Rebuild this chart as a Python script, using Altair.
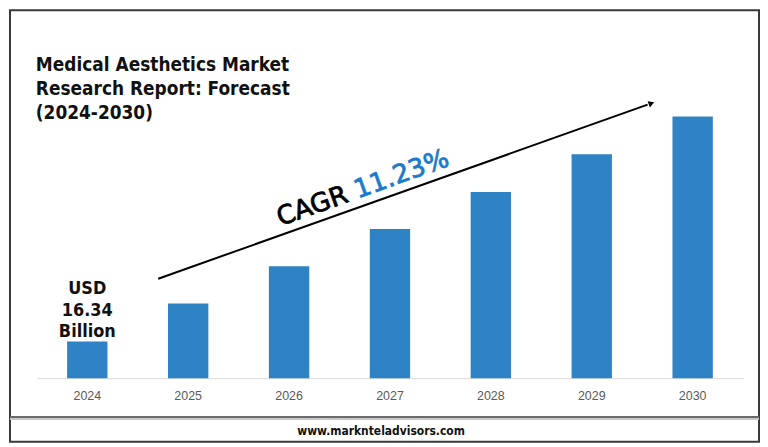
import altair as alt
import pandas as pd

years = ["2024", "2025", "2026", "2027", "2028", "2029", "2030"]
values = [16.34, 33.1, 49.7, 66.2, 82.6, 99.4, 116.1]
title_lines = ["Medical Aesthetics Market", "Research Report: Forecast", "(2024-2030)"]
label_lines = ["USD", "16.34", "Billion"]
cagr_word = "CAGR"
cagr_value = "11.23%"
footer_text = "www.marknteladvisors.com"

BAR = "#2E83C4"
BLUE_TXT = "#1B7BCB"
COND = "DejaVu Sans Condensed, DejaVu Sans"

df = pd.DataFrame({"year": years, "value": values})
one = pd.DataFrame({"k": [0]})

x_enc = alt.X(
    "year:N",
    sort=years,
    scale=alt.Scale(paddingInner=0.6, paddingOuter=0.3),
    axis=alt.Axis(
        title=None, labelAngle=0, ticks=False, domainColor="#d9d9d9",
        domainWidth=1, labelFont="Liberation Sans", labelFontSize=12.5,
        labelColor="#595959", labelPadding=11, grid=False,
    ),
)
y_enc = alt.Y("value:Q", scale=alt.Scale(domain=[0, 163.8]), axis=None)

bars = alt.Chart(df).mark_bar(color=BAR).encode(x=x_enc, y=y_enc)

usd = (
    alt.Chart(df)
    .transform_filter("datum.year == '2024'")
    .mark_text(baseline="bottom", align="center", fontSize=18, fontWeight="bold",
               font=COND, lineHeight=22, dy=-44, color="#111111")
    .encode(x=x_enc, y=y_enc, text=alt.value(label_lines))
)

ann = alt.Chart(one)

title = ann.mark_text(align="left", baseline="alphabetic", fontSize=19, fontWeight="bold",
                      font=COND, lineHeight=24, color="#111111").encode(
    x=alt.value(-1), y=alt.value(62), text=alt.value(title_lines))

arrow = ann.mark_rule(color="black", strokeWidth=2).encode(
    x=alt.value(122), y=alt.value(271), x2=alt.value(614), y2=alt.value(96))
head = ann.mark_point(shape="triangle", filled=True, size=45, angle=70.35,
                      color="black", opacity=1).encode(x=alt.value(617), y=alt.value(95))

cagr1 = ann.mark_text(align="left", baseline="alphabetic", fontSize=26, font="DejaVu Sans",
                      angle=340.35, color="black", stroke="black", strokeWidth=0.8).encode(
    x=alt.value(245), y=alt.value(218), text=alt.value(cagr_word))
cagr2 = ann.mark_text(align="left", baseline="alphabetic", fontSize=26, font="DejaVu Sans",
                      angle=340.35, color=BLUE_TXT, stroke=BLUE_TXT, strokeWidth=0.8).encode(
    x=alt.value(322.6), y=alt.value(190.3), text=alt.value(cagr_value))

border = ann.mark_rect(fillOpacity=0, stroke="#3a3a3a", strokeWidth=2).encode(
    x=alt.value(-27), x2=alt.value(726), y=alt.value(1), y2=alt.value(435))
sep1 = ann.mark_rule(color="#6b6b6b", strokeWidth=2).encode(
    x=alt.value(-27), x2=alt.value(726), y=alt.value(410))
sep2 = ann.mark_rule(color="#c8c8c8", strokeWidth=2).encode(
    x=alt.value(-27), x2=alt.value(726), y=alt.value(412))

footer = ann.mark_text(align="center", baseline="alphabetic", fontSize=12, fontWeight="bold",
                       font=COND, color="#111111").encode(
    x=alt.value(346), y=alt.value(428), text=alt.value(footer_text))

chart = (
    alt.layer(bars, usd, title, arrow, head, cagr1, cagr2, border, sep1, sep2, footer)
    .properties(
        width=710, height=371,
        autosize=alt.AutoSizeParams(type="none"),
        padding={"left": 29, "top": 0, "right": 17, "bottom": 66},
        background="white",
    )
    .configure_view(strokeWidth=0)
)

chart.save("out.html", embed_options={"renderer": "svg", "actions": False})
